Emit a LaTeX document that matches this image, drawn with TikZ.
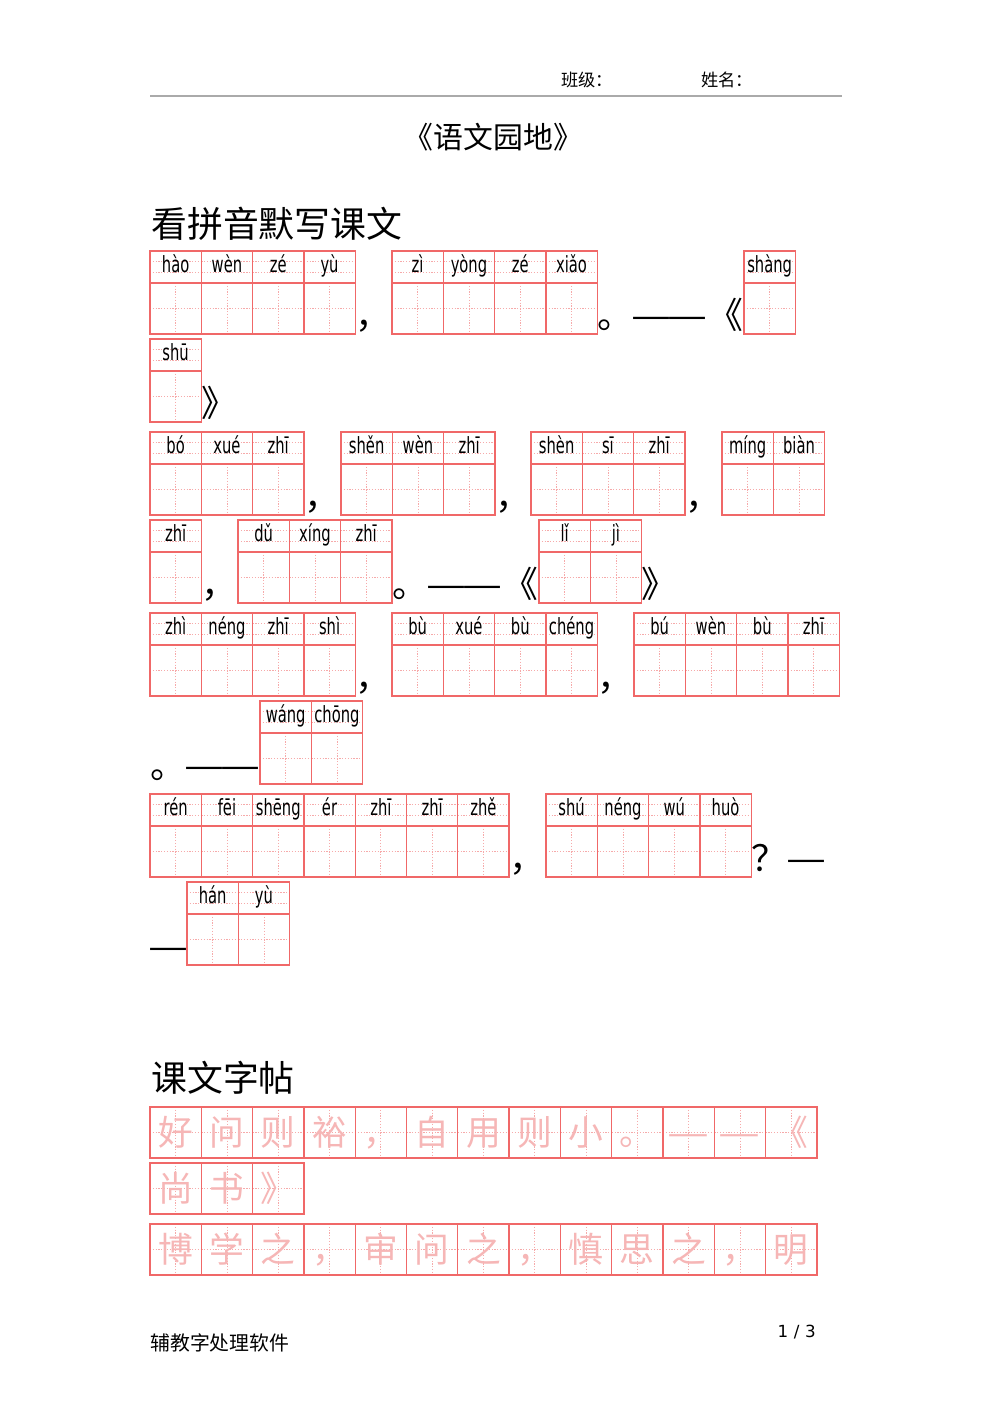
\documentclass[tikz,border=0pt]{standalone}
\usepackage{fontspec}
\usepackage{graphicx}
\setmainfont{DejaVu Sans}
\newfontfamily\cjk{Noto Sans CJK SC}
\newfontfamily\pyfam{DejaVu Sans}
\usetikzlibrary{positioning}
\definecolor{gridred}{RGB}{240,104,104}
\definecolor{griddotred}{RGB}{246,170,170}
\definecolor{copypink}{RGB}{246,182,182}
\definecolor{rulegray}{RGB}{170,170,170}

\newcommand{\pyrow}[4]{%
  \foreach \p [count=\i] in {#4}{
    \draw[griddot] ({#2+(\i-1)*51.3},#3+10.7) -- ++(51.3,0);
    \draw[griddot] ({#2+(\i-1)*51.3},#3+21.3) -- ++(51.3,0);
    \draw[griddot] ({#2+(\i-1)*51.3},#3+57.5) -- ++(51.3,0);
    \draw[griddot] ({#2+(\i-0.5)*51.3},#3+32) -- ++(0,51);
    \draw[gridline] ({#2+(\i-1)*51.3},#3) rectangle ++(51.3,83);
    \draw[gridline] ({#2+(\i-1)*51.3},#3+32) -- ++(51.3,0);
    \node[pinyin] (#1-\i) at ({#2+(\i-0.5)*51.3},#3+21.3) {\scalebox{0.66}[1]{\p}};
    \coordinate (#1-e) at ({#2+\i*51.3},#3+77);
  }
  \coordinate (#1-w) at (#2,#3+77);
}

\newcommand{\copyrow}[4]{%
  \foreach \c [count=\i] in {#4}{
    \draw[griddot] ({#2+(\i-0.5)*51.3},#3) -- ++(0,51);
    \draw[griddot] ({#2+(\i-1)*51.3},#3+25.5) -- ++(51.3,0);
    \draw[gridline] ({#2+(\i-1)*51.3},#3) rectangle ++(51.3,51);
    \node[copychar] (#1-\i) at ({#2+(\i-0.5)*51.3},#3+38.8) {\c};
  }
}
\newcommand{\dash}[1]{\makebox[1em]{\scalebox{#1}[1]{—}}}
\newcommand{\openbk}{\makebox[1em][l]{\hspace{0.04em}《}}

\begin{document}
\begin{tikzpicture}[x=0.02cm, y=-0.02cm,
  gridline/.style={draw=gridred, line width=0.75pt},
  griddot/.style={draw=griddotred, line width=0.45pt, dash pattern=on 0.7pt off 0.9pt},
  pinyin/.style={anchor=base, inner sep=0pt, font=\pyfam\fontsize{12.7}{12.7}\selectfont},
  punct/.style={anchor=base west, inner sep=0pt, font=\cjk\fontsize{20.4}{20.4}\selectfont},
  copychar/.style={anchor=base, inner sep=0pt, text=copypink, font=\cjk\fontsize{19.8}{19.8}\selectfont},
  heading/.style={anchor=west, inner sep=0pt, font=\cjk\fontsize{20.4}{20.4}\selectfont},
  small/.style={anchor=base west, inner sep=0pt, font=\cjk\fontsize{9.8}{9.8}\selectfont}]
  \useasboundingbox[fill=white] (0,0) rectangle (992,1403);

  \node[small] (class) at (561,86) {班级：};
  \node[small] (name) at (701,86) {姓名：};
  \draw[rulegray, line width=0.6pt] (150,96) -- (842,96);
  \node[inner sep=0pt, font=\cjk\fontsize{17}{17}\selectfont] (title) at (493.5,137) {《语文园地》};

  \node[heading] (sec1) at (151,223.5) {看拼音默写课文};

  \pyrow{ra1}{150}{251}{hào,wèn,zé,yù}
  \pyrow{ra2}{392}{251}{zì,yòng,zé,xiǎo}
  \pyrow{ra3}{744}{251}{shàng}
  \node[punct] (pa1) at (ra1-e) {，};
  \node[punct] (pa2) at (ra2-e) {。};
  \node[punct] (pa3) at (pa2.base east) {\dash{1.25}\dash{1.25}};
  \node[punct] (pa4) at (pa3.base east) {\openbk};

  \pyrow{rb1}{150}{339}{shū}
  \node[punct] (pb1) at (rb1-e) {》};

  \pyrow{rc1}{150}{432}{bó,xué,zhī}
  \pyrow{rc2}{341}{432}{shěn,wèn,zhī}
  \pyrow{rc3}{531}{432}{shèn,sī,zhī}
  \pyrow{rc4}{722}{432}{míng,biàn}
  \node[punct] (pc1) at (rc1-e) {，};
  \node[punct] (pc2) at (rc2-e) {，};
  \node[punct] (pc3) at (rc3-e) {，};

  \pyrow{rd1}{150}{520}{zhī}
  \pyrow{rd2}{238}{520}{dǔ,xíng,zhī}
  \pyrow{rd3}{539}{520}{lǐ,jì}
  \node[punct] (pd1) at (rd1-e) {，};
  \node[punct] (pd2) at (rd2-e) {。};
  \node[punct] (pd3) at (pd2.base east) {\dash{1.25}\dash{1.25}};
  \node[punct] (pd4) at (pd3.base east) {\openbk};
  \node[punct] (pd5) at (rd3-e) {》};

  \pyrow{re1}{150}{613}{zhì,néng,zhī,shì}
  \pyrow{re2}{392}{613}{bù,xué,bù,chéng}
  \pyrow{re3}{634}{613}{bú,wèn,bù,zhī}
  \node[punct] (pe1) at (re1-e) {，};
  \node[punct] (pe2) at (re2-e) {，};

  \pyrow{rf1}{260}{701}{wáng,chōng}
  \node[punct] (pf1) at (150,778) {。};
  \node[punct] (pf2) at (pf1.base east) {\dash{1.25}\dash{1.25}};

  \pyrow{rg1}{150}{794}{rén,fēi,shēng,ér,zhī,zhī,zhě}
  \pyrow{rg2}{546}{794}{shú,néng,wú,huò}
  \node[punct] (pg1) at (rg1-e) {，};
  \node[punct] (pg2) at (rg2-e) {？};
  \node[punct] (pg3) at (pg2.base east) {\dash{1.25}};

  \pyrow{rh1}{187}{882}{hán,yù}
  \node[punct] (ph1) at (150,959) {\dash{1.25}};

  \node[heading] (sec2) at (151,1078) {课文字帖};
  \copyrow{ca}{150}{1107}{好,问,则,裕,，,自,用,则,小,。,\dash{1.35},\dash{1.35},《}
  \copyrow{cb}{150}{1163}{尚,书,》}
  \copyrow{cc}{150}{1224}{博,学,之,，,审,问,之,，,慎,思,之,，,明}

  \node[anchor=base west, inner sep=0pt, font=\cjk\fontsize{11.3}{11.3}\selectfont] (foot) at (150,1350) {辅教字处理软件};
  \node[anchor=base east, inner sep=0pt, font=\fontsize{9.5}{9.5}\selectfont] (pageno) at (816,1337) {1\,\,/\,\,3};
\end{tikzpicture}
\end{document}
